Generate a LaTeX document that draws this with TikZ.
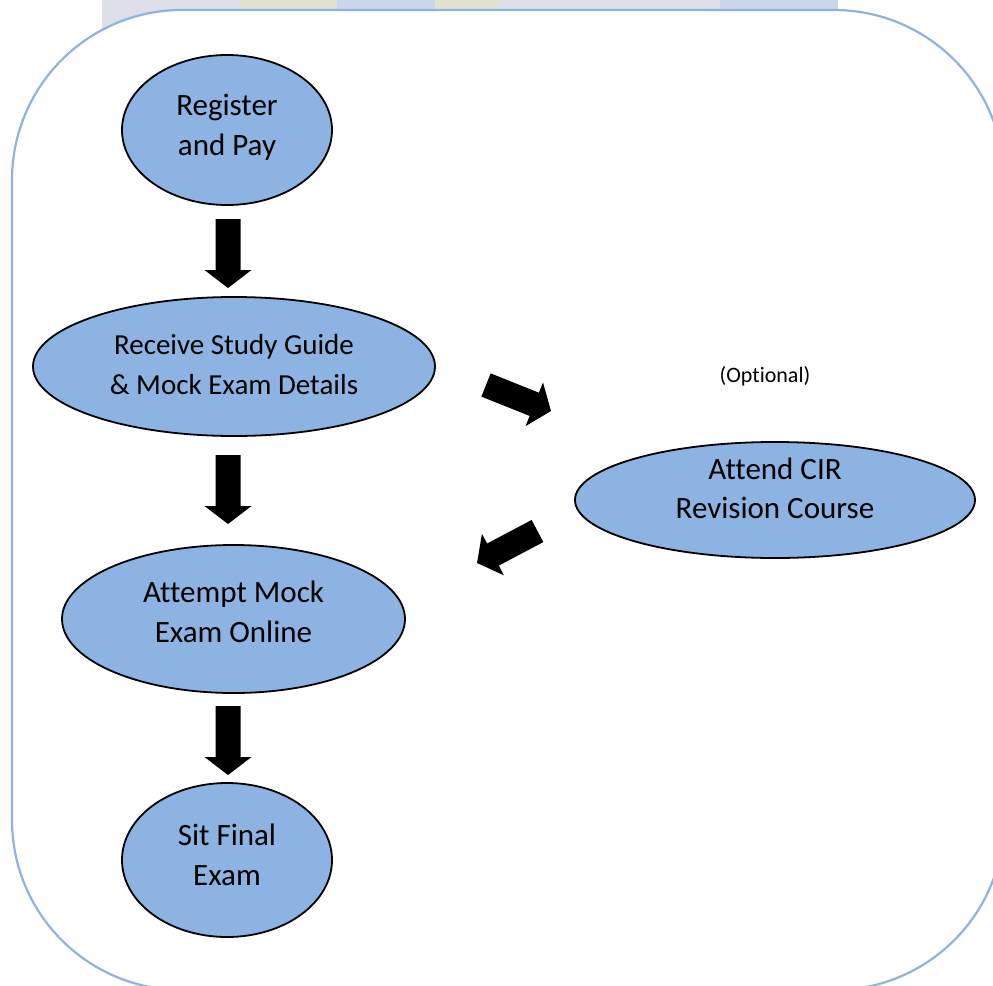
\documentclass[tikz,border=0pt]{standalone}
\usepackage{fontspec}
\setmainfont{Carlito}[Ligatures=NoCommon]
\usetikzlibrary{shapes.geometric,calc}
\definecolor{nodeblue}{HTML}{8DB3E2}
\definecolor{framecol}{HTML}{8DB3E2}
\definecolor{photogrey}{HTML}{DDE0E8}
\definecolor{photoblue}{HTML}{CCD7EE}
\definecolor{photoyel}{HTML}{E2E0CE}
\newcommand\blockarr[2]{%
  \pgfpointdiff{\pgfpointanchor{#1}{center}}{\pgfpointanchor{#2}{center}}%
  \pgfgetlastxy{\bax}{\bay}%
  \pgfmathsetmacro\barang{atan2(\bay,\bax)}%
  \pgfmathsetmacro\barlen{veclen(\bax,\bay)}%
  \pgfmathsetmacro\barhb{\barlen-18}%
  \fill[black, shift={(#1)}, rotate=\barang]
    (0pt,-12.5pt) -- ({\barhb*1pt},-12.5pt) -- ({\barhb*1pt},-23.5pt)
    -- ({\barlen*1pt},0pt) -- ({\barhb*1pt},23.5pt) -- ({\barhb*1pt},12.5pt)
    -- (0pt,12.5pt) -- cycle;
}
\begin{document}
\begin{tikzpicture}[x=1pt,y=-1pt,
  stepnode/.style={ellipse, draw=black, line width=1.8pt, fill=nodeblue, inner sep=0pt},
  steptext/.style={inner sep=0pt, align=center, font=\fontsize{31}{39.5}\selectfont},
  midtext/.style={steptext, font=\fontsize{29}{40}\selectfont}]
\useasboundingbox (0,0) rectangle (993,985);
\clip (0,0) rectangle (993,985);
% faint photo behind the frame
\fill[photogrey] (102,0) rectangle (838,60);
\fill[photoyel] (240,0) rectangle (337,60);
\fill[photoblue] (337,0) rectangle (435,60);
\fill[photoyel] (435,0) rectangle (498,60);
\fill[photoblue] (720,0) rectangle (838,60);
% frame
\draw[framecol, line width=2.2pt, fill=white, rounded corners=170pt] (12,10) rectangle (1004,990);
% nodes
\node[stepnode, minimum width=210pt, minimum height=150pt,
  label={[steptext, yshift=2.5pt]center:{Register\\and Pay}}] (reg) at (227,130) {};
\node[stepnode, minimum width=402pt, minimum height=139pt,
  label={[midtext, yshift=1.5pt]center:{Receive Study Guide\\\& Mock Exam Details}}] (rec) at (234,366.5) {};
\node[stepnode, minimum width=400pt, minimum height=116pt,
  label={[steptext, yshift=11.5pt]center:{Attend CIR\\Revision Course}}] (cir) at (775,500) {};
\node[stepnode, minimum width=343pt, minimum height=148pt,
  label={[steptext, yshift=7pt]center:{Attempt Mock\\Exam Online}}] (mock) at (233.5,619) {};
\node[stepnode, minimum width=210pt, minimum height=154pt,
  label={[steptext, yshift=5pt]center:{Sit Final\\Exam}}] (fin) at (227,860) {};
\node[font=\fontsize{22}{26}\selectfont, inner sep=0pt] (opt) at (765,376) {(Optional)};
% arrow end points
\coordinate (d1s) at (228,219);
\coordinate (d1e) at (228,288);
\coordinate (d2s) at (228,455);
\coordinate (d2e) at (228,524);
\coordinate (d3s) at (228,706);
\coordinate (d3e) at (228,775);
\coordinate (a1s) at (486,385);
\coordinate (a1e) at (551,411);
\coordinate (a2s) at (537.5,531);
\coordinate (a2e) at (477,563);
\blockarr{d1s}{d1e}
\blockarr{d2s}{d2e}
\blockarr{d3s}{d3e}
\blockarr{a1s}{a1e}
\blockarr{a2s}{a2e}
\end{tikzpicture}
\end{document}
